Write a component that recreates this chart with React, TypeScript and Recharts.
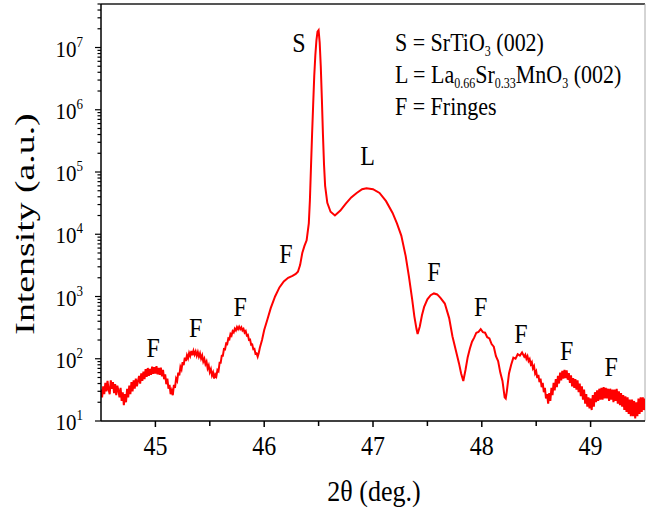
import { LineChart, Line, XAxis, YAxis, ReferenceDot, ReferenceLine } from 'recharts';

// XRD theta-2theta scan, SrTiO3 substrate + LSMO film (002)
const SERIF = '"Liberation Serif", "DejaVu Serif", serif';

// low-angle side, fringes
const thetaScanA = [
  44.50, 44.51, 44.52, 44.53, 44.54, 44.55, 44.56, 44.57, 44.58, 44.59,
  44.60, 44.61, 44.62, 44.63, 44.64, 44.65, 44.66, 44.67, 44.68, 44.69,
  44.70, 44.71, 44.72, 44.73, 44.74, 44.75, 44.76, 44.77, 44.78, 44.79,
  44.80, 44.81, 44.82, 44.83, 44.84, 44.85, 44.86, 44.87, 44.88, 44.89,
  44.90, 44.91, 44.92, 44.93, 44.94, 44.95, 44.96, 44.97, 44.98, 44.99,
  45.00, 45.01, 45.02, 45.03, 45.04, 45.05, 45.06, 45.07, 45.08, 45.09,
  45.10, 45.11, 45.12, 45.13, 45.14, 45.15, 45.16, 45.17, 45.18, 45.19,
  45.20, 45.21, 45.22, 45.23, 45.24, 45.25, 45.26, 45.27, 45.28, 45.29,
  45.30, 45.31, 45.32, 45.33, 45.34, 45.35, 45.36, 45.37, 45.38, 45.39,
  45.40, 45.41, 45.42, 45.43, 45.44, 45.45, 45.46, 45.47, 45.48, 45.49,
  45.50, 45.51, 45.52, 45.53, 45.54, 45.55, 45.56, 45.57, 45.58, 45.59,
  45.60, 45.61, 45.62, 45.63, 45.64, 45.65, 45.66, 45.67, 45.68, 45.69,
  45.70, 45.71, 45.72, 45.73, 45.74, 45.75, 45.76, 45.77, 45.78, 45.79,
  45.80, 45.81, 45.82, 45.83, 45.84, 45.85, 45.86, 45.87, 45.88, 45.89,
  45.90, 45.91, 45.92, 45.93, 45.94, 45.95, 45.96,
];
const countsScanA = [
  32, 24, 36, 27, 41, 30, 44, 32, 27, 45,
  33, 42, 28, 39, 26, 37, 31, 24, 34, 21,
  29, 18, 27, 20, 33, 24, 37, 27, 42, 30,
  45, 33, 48, 36, 44, 53, 40, 58, 44, 62,
  47, 68, 51, 71, 53, 69, 55, 75, 57, 73,
  58, 76, 56, 71, 55, 72, 52, 66, 47, 56,
  39, 48, 33, 38, 27, 31, 26, 38, 34, 48,
  44, 60, 54, 74, 67, 88, 79, 104, 92, 114,
  102, 124, 111, 133, 114, 134, 117, 131, 112, 128,
  108, 122, 101, 113, 90, 100, 82, 90, 70, 78,
  61, 68, 54, 60, 48, 56, 52, 66, 63, 86,
  86, 112, 112, 143, 141, 176, 172, 212, 206, 250,
  236, 278, 265, 304, 285, 322, 298, 328, 300, 320,
  286, 302, 264, 278, 236, 242, 200, 203, 168, 170,
  142, 144, 120, 122, 108, 124, 150,
];

// substrate peak, film peak and first fringes
const thetaPeaks = [
  45.98, 46.00, 46.03, 46.06, 46.10, 46.14, 46.18, 46.22, 46.26, 46.29,
  46.31, 46.33, 46.35, 46.37, 46.39, 46.41, 46.42, 46.43, 46.44, 46.45,
  46.46, 46.47, 46.48, 46.49, 46.50, 46.51, 46.52, 46.53, 46.54, 46.55,
  46.56, 46.58, 46.61, 46.65, 46.70, 46.75, 46.80, 46.85, 46.90, 46.94,
  47.00, 47.06, 47.12, 47.18, 47.22, 47.26, 47.30, 47.33, 47.36, 47.38,
  47.40, 47.41, 47.43, 47.45, 47.47, 47.50, 47.53, 47.56, 47.59, 47.62,
  47.66, 47.70, 47.73, 47.76, 47.79, 47.81, 47.83, 47.85, 47.87, 47.89,
  47.91, 47.93, 47.95, 47.97, 47.99, 48.01, 48.03, 48.05, 48.07, 48.09,
  48.11, 48.13, 48.15, 48.17, 48.19, 48.21, 48.22, 48.23, 48.25, 48.27,
  48.29, 48.31, 48.33, 48.35, 48.37, 48.39,
];
const countsPeaks = [
  200, 290, 430, 650, 1000, 1400, 1750, 2000, 2150, 2300,
  2500, 3200, 5000, 6500, 8000, 15000, 35000, 120000, 400000, 1200000,
  3500000, 7500000, 13000000, 18000000, 19000000, 12000000, 5000000, 1500000, 400000, 130000,
  60000, 32000, 23000, 20000, 24000, 31000, 39000, 46000, 53000, 55000,
  53000, 46000, 34000, 22000, 15000, 9500, 4500, 2100, 900, 480,
  300, 250, 330, 500, 680, 900, 1050, 1120, 1080, 950,
  770, 450, 230, 140, 85, 58, 44, 66, 105, 145,
  188, 218, 262, 270, 298, 268, 262, 222, 212, 172,
  156, 110, 92, 60, 44, 24, 23, 30, 58, 80,
  104, 100, 118, 112, 126, 108,
];

// high-angle side, weak fringes in the noise
const thetaScanC = [
  48.40, 48.41, 48.42, 48.43, 48.44, 48.45, 48.46, 48.47, 48.48, 48.49,
  48.50, 48.51, 48.52, 48.53, 48.54, 48.55, 48.56, 48.57, 48.58, 48.59,
  48.60, 48.61, 48.62, 48.63, 48.64, 48.65, 48.66, 48.67, 48.68, 48.69,
  48.70, 48.71, 48.72, 48.73, 48.74, 48.75, 48.76, 48.77, 48.78, 48.79,
  48.80, 48.81, 48.82, 48.83, 48.84, 48.85, 48.86, 48.87, 48.88, 48.89,
  48.90, 48.91, 48.92, 48.93, 48.94, 48.95, 48.96, 48.97, 48.98, 48.99,
  49.00, 49.01, 49.02, 49.03, 49.04, 49.05, 49.06, 49.07, 49.08, 49.09,
  49.10, 49.11, 49.12, 49.13, 49.14, 49.15, 49.16, 49.17, 49.18, 49.19,
  49.20, 49.21, 49.22, 49.23, 49.24, 49.25, 49.26, 49.27, 49.28, 49.29,
  49.30, 49.31, 49.32, 49.33, 49.34, 49.35, 49.36, 49.37, 49.38, 49.39,
  49.40, 49.41, 49.42, 49.43, 49.44, 49.45, 49.46, 49.47, 49.48, 49.49,
  49.50,
];
const countsScanC = [
  116, 100, 110, 92, 99, 82, 88, 70, 76, 58,
  63, 49, 55, 42, 48, 35, 41, 29, 34, 23,
  27, 19, 28, 21, 34, 26, 41, 31, 47, 35,
  53, 40, 60, 45, 64, 48, 66, 49, 65, 46,
  59, 41, 54, 36, 49, 34, 47, 32, 45, 29,
  40, 25, 36, 22, 32, 19, 27, 17, 24, 16,
  23, 15, 26, 17, 29, 20, 31, 21, 33, 22,
  34, 22, 35, 23, 34, 23, 33, 21, 33, 22,
  32, 20, 32, 21, 33, 19, 30, 18, 28, 17,
  26, 15, 25, 14, 24, 13, 22, 12, 22, 12,
  21, 11, 20, 12, 23, 13, 24, 14, 24, 15,
  23,
];

// peak labels
const peakLabels = ['S', 'L', 'F', 'F', 'F', 'F', 'F', 'F', 'F', 'F', 'F'];
const peakLabelTheta = [46.32, 46.95, 44.98, 45.37, 45.78, 46.2, 47.56, 47.99, 48.36, 48.78, 49.19];
const peakLabelIntensity = [1.2e7, 1.8e5, 150, 316, 690, 4800, 2500, 690, 250, 135, 74];

const xTicks = [45, 45.5, 46, 46.5, 47, 47.5, 48, 48.5, 49];
const yTicks: number[] = [];
for (let d = 1; d <= 7; d++) {
  for (let m = 1; m <= 9; m++) {
    const v = m * 10 ** d;
    if (v <= 5e7) yTicks.push(v);
  }
}

const thetaAll = [...thetaScanA, ...thetaPeaks, ...thetaScanC];
const countsAll = [...countsScanA, ...countsPeaks, ...countsScanC];
const rows = thetaAll.map((t, i) => ({ theta: t, intensity: countsAll[i] }));

const XTick = (props: any) => {
  const { x, y, payload } = props;
  const v = payload.value;
  const major = Number.isInteger(v);
  return (
    <g>
      <line x1={x} x2={x} y1={y} y2={y + (major ? 6 : 5)} stroke="#000" strokeWidth={1.5} />
      {major && (
        <text
          transform={`translate(${x},${y + 34}) scale(1,1.1)`}
          textAnchor="middle"
          fontFamily={SERIF}
          fontSize={24}
          fill="#000"
        >
          {v}
        </text>
      )}
    </g>
  );
};

const YTick = (props: any) => {
  const { x, y, payload } = props;
  const v = payload.value;
  const exp = Math.log10(v);
  const major = Math.abs(exp - Math.round(exp)) < 1e-6;
  return (
    <g>
      <line x1={x - (major ? 6 : 3.5)} x2={x} y1={y} y2={y} stroke="#000" strokeWidth={1.2} />
      {major && (
        <text
          transform={`translate(${x - 18},${y + 9}) scale(1,1.1)`}
          textAnchor="end"
          fontFamily={SERIF}
          fontSize={21}
          fill="#000"
        >
          10
          <tspan dy={-9} fontSize={13}>{Math.round(exp)}</tspan>
        </text>
      )}
    </g>
  );
};

const PeakText = ({ cx, cy, text }: { cx: number; cy: number; text: string }) => (
  <text
    transform={`translate(${cx},${cy + 9}) scale(1,1.12)`}
    textAnchor="middle"
    fontFamily={SERIF}
    fontSize={24}
    fill="#000"
  >
    {text}
  </text>
);

export default function App() {
  return (
    <div style={{ position: 'relative', width: 646, height: 511, background: '#fff' }}>
      <style>{'body{margin:0}'}</style>
      <LineChart width={646} height={511} data={rows} margin={{ top: 4, right: 1, bottom: 0, left: 0 }}>
        <XAxis
          dataKey="theta"
          type="number"
          domain={[44.5, 49.5]}
          ticks={xTicks}
          interval={0}
          allowDataOverflow
          height={90}
          tickSize={0}
          tickMargin={0}
          tickLine={false}
          tick={XTick}
          axisLine={{ stroke: '#000', strokeWidth: 1.5 }}
        />
        <YAxis
          type="number"
          scale="log"
          domain={[10, 5e7]}
          ticks={yTicks}
          interval={0}
          allowDataOverflow
          width={101}
          tickSize={0}
          tickMargin={0}
          tickLine={false}
          tick={YTick}
          axisLine={{ stroke: '#000', strokeWidth: 1.5 }}
        />
        <ReferenceLine y={5e7} stroke="#555" strokeWidth={2} />
        <ReferenceLine x={49.5} stroke="#aaa" strokeWidth={1} />
        <Line
          dataKey="intensity"
          type="linear"
          stroke="#ff0000"
          strokeWidth={2}
          dot={false}
          isAnimationActive={false}
        />
        {peakLabels.map((t, i) => (
          <ReferenceDot
            key={i}
            x={peakLabelTheta[i]}
            y={peakLabelIntensity[i]}
            r={0}
            shape={(p: any) => <PeakText cx={p.cx} cy={p.cy} text={t} />}
          />
        ))}
      </LineChart>
      <svg
        width={646}
        height={511}
        style={{ position: 'absolute', left: 0, top: 0, pointerEvents: 'none' }}
        fontFamily={SERIF}
        fill="#000"
      >
        <text transform="translate(24,224) rotate(-90) scale(1.35,1)" textAnchor="middle" dominantBaseline="central" fontSize={28}>
          Intensity (a.u.)
        </text>
        <text transform="translate(374,501) scale(1,1.15)" textAnchor="middle" fontSize={26}>
          2θ (deg.)
        </text>
        <g fontSize={22}>
          <text transform="translate(395,51) scale(1,1.18)">
            S = SrTiO<tspan dy={4} fontSize={12}>3</tspan><tspan dy={-4}> (002)</tspan>
          </text>
          <text transform="translate(395,83) scale(1,1.18)">
            L = La<tspan dy={4} fontSize={12}>0.66</tspan>
            <tspan dy={-4}>Sr</tspan><tspan dy={4} fontSize={12}>0.33</tspan>
            <tspan dy={-4}>MnO</tspan><tspan dy={4} fontSize={12}>3</tspan>
            <tspan dy={-4}> (002)</tspan>
          </text>
          <text transform="translate(395,115) scale(1,1.18)">F = Fringes</text>
        </g>
      </svg>
    </div>
  );
}
